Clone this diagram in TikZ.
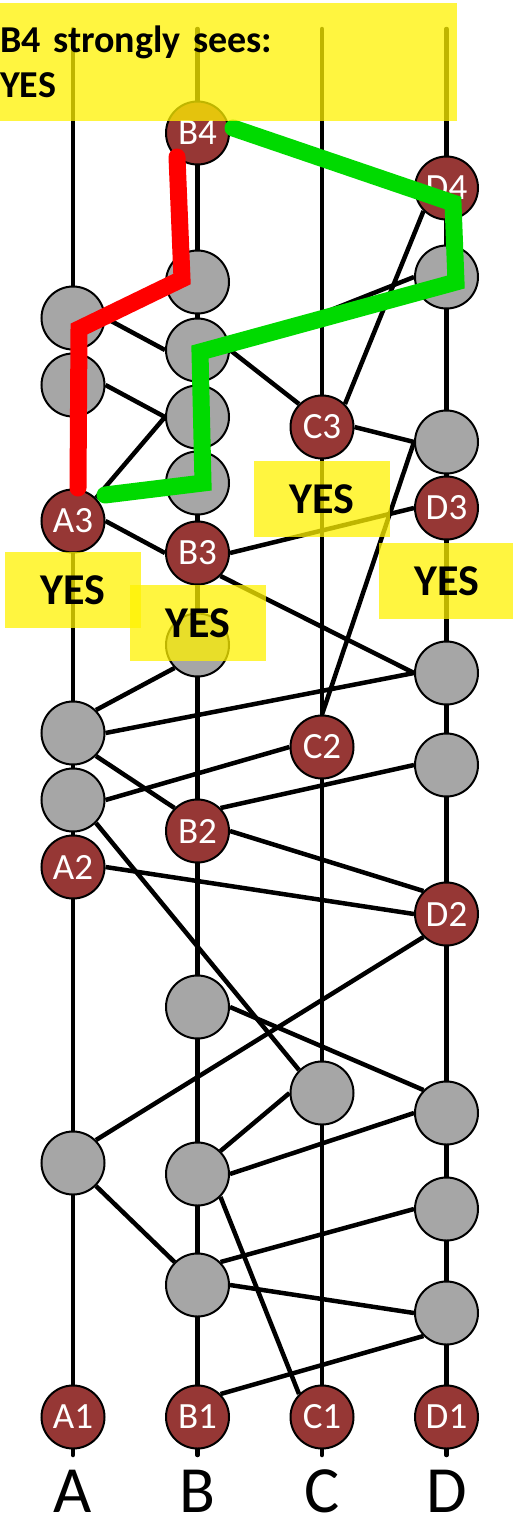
\documentclass[tikz,border=0pt]{standalone}
\usepackage{fontspec}
\setmainfont{Carlito}
\usepackage{tikz}
\usetikzlibrary{positioning}
\usetikzlibrary{calc}
\usetikzlibrary{backgrounds}
\definecolor{witnessred}{RGB}{150,55,53}
\definecolor{eventgray}{RGB}{166,166,166}
\definecolor{pathgreen}{RGB}{0,218,0}
\tikzstyle{event} = [circle, fill=eventgray, draw=black, line width=2pt,
inner sep=0pt, minimum size=63pt, on grid]
\tikzstyle{witness} = [event, fill=witnessred, text=white,
font=\fontsize{37}{37}\selectfont]
\tikzstyle{link} = [line width=4.5pt]
\tikzstyle{colline} = [line width=4.5pt, line cap=round]
\tikzstyle{hilite} = [line width=17pt, line cap=round]
\tikzstyle{yesbox} = [fill=yellow, fill opacity=0.75, text opacity=1, on grid,
minimum width=136pt, minimum height=76pt, inner sep=0pt,
font=\bfseries\fontsize{44}{44}\selectfont]
\tikzstyle{titlebox} = [anchor=north west, fill=yellow, fill opacity=0.75,
text opacity=1, inner xsep=0pt, text width=457pt, minimum height=118pt,
align=left, font=\bfseries\fontsize{38}{45}\selectfont]
\tikzstyle{collabel} = [anchor=base, inner sep=0pt, font=\fontsize{66}{66}\selectfont]

\begin{document}
\begin{tikzpicture}[x=1pt, y=-1pt]
  \useasboundingbox (0,0) rectangle (513,1518);
  % first events
  \node[witness]                        (A1) at (73,1417) {A1};
  \node[witness, right = 124.5pt of A1] (B1) {B1};
  \node[witness, right = 124.5pt of B1] (C1) {C1};
  \node[witness, right = 124.5pt of C1] (D1) {D1};
  % column A
  \node[event, above = 254pt of A1]    (a1) {};
  \node[witness, above = 550pt of A1]  (A2) {A2};
  \node[event, above = 617pt of A1]    (a2) {};
  \node[event, above = 684pt of A1]    (a3) {};
  \node[witness, above = 896pt of A1]  (A3) {A3};
  \node[event, above = 1032pt of A1]   (a4) {};
  \node[event, above = 1099pt of A1]   (a5) {};
  % column B
  \node[event, above = 132pt of B1]    (b1) {};
  \node[event, above = 243pt of B1]    (b2) {};
  \node[event, above = 410pt of B1]    (b3) {};
  \node[witness, above = 586pt of B1]  (B2) {B2};
  \node[event, above = 772pt of B1]    (b4) {};
  \node[witness, above = 864pt of B1]  (B3) {B3};
  \node[event, above = 934pt of B1]    (b5) {};
  \node[event, above = 1000pt of B1]   (b6) {};
  \node[event, above = 1067pt of B1]   (b7) {};
  \node[event, above = 1135pt of B1]   (b8) {};
  \node[witness, above = 1284pt of B1] (B4) {B4};
  % column C
  \node[event, above = 324pt of C1]    (c1) {};
  \node[witness, above = 670pt of C1]  (C2) {C2};
  \node[witness, above = 990pt of C1]  (C3) {C3};
  % column D
  \node[event, above = 104pt of D1]    (d1) {};
  \node[event, above = 208pt of D1]    (d2) {};
  \node[event, above = 304pt of D1]    (d3) {};
  \node[witness, above = 503pt of D1]  (D2) {D2};
  \node[event, above = 652pt of D1]    (d4) {};
  \node[event, above = 744pt of D1]    (d5) {};
  \node[witness, above = 909pt of D1]  (D3) {D3};
  \node[event, above = 975pt of D1]    (d6) {};
  \node[event, above = 1140pt of D1]   (d7) {};
  \node[witness, above = 1229pt of D1] (D4) {D4};

  \begin{scope}[on background layer]
    % member lines
    \foreach \col in {A,B,C,D}
      \draw[colline] ($(\col1)+(0,38)$) -- ($(\col1)+(0,-1388)$);
    % other parents
    \foreach \x/\y in {D4.south west/C3.north east, d7.west/b7.east,
        C3.east/d6.west, C2.north/d6.west, B3.east/D3.west,
        A3.east/B3.west, A3.north east/b6.west, a4.east/b6.west,
        a5.east/b7.west, b7.east/C3.north west,
        B3.south east/d5.west, a3.east/d5.west,
        a3.north east/b4.south west, a3.south east/B2.north west,
        a2.east/C2.west, B2.north east/d4.west, B2.east/D2.north west,
        A2.east/D2.west, a2.south east/c1.north west,
        a1.north east/D2.south west, b3.east/d3.north west,
        b2.north east/c1.west, b2.east/d3.west,
        b2.south east/C1.north west, a1.south east/b1.north west,
        b1.north east/d2.west, b1.east/d1.west, B1.north east/d1.south west}
      \draw[link] (\x) -- (\y);
  \end{scope}

  % paths from B4
  \draw[hilite, red] ($(B4)+(-20.5,24)$) -- ($(b8)+(-15.5,-3)$)
    -- ($(a5)+(6,11)$) -- ($(A3)+(5,-33)$);
  \draw[hilite, pathgreen] ($(B4)+(35.5,-5)$) -- ($(D4)+(6.5,15)$)
    -- ($(d7)+(9.5,5)$) -- ($(b7)+(2.5,2)$) -- ($(b5)+(5.5,0)$)
    -- ($(A3)+(32,-26)$);

  % answers
  \node[titlebox] (seen) at (0,3) {B4 strongly sees:\\YES};
  \node[yesbox, below = 69pt of A3] (yesA) {YES};
  \node[yesbox, below = 70pt of B3] (yesB) {YES};
  \node[yesbox, below = 72pt of C3] (yesC) {YES};
  \node[yesbox, below = 73pt of D3] (yesD) {YES};

  % members
  \foreach \col in {A,B,C,D}
    \node[collabel] (lab\col) at ($(\col1)+(0,95)$) {\col};
\end{tikzpicture}
\end{document}
